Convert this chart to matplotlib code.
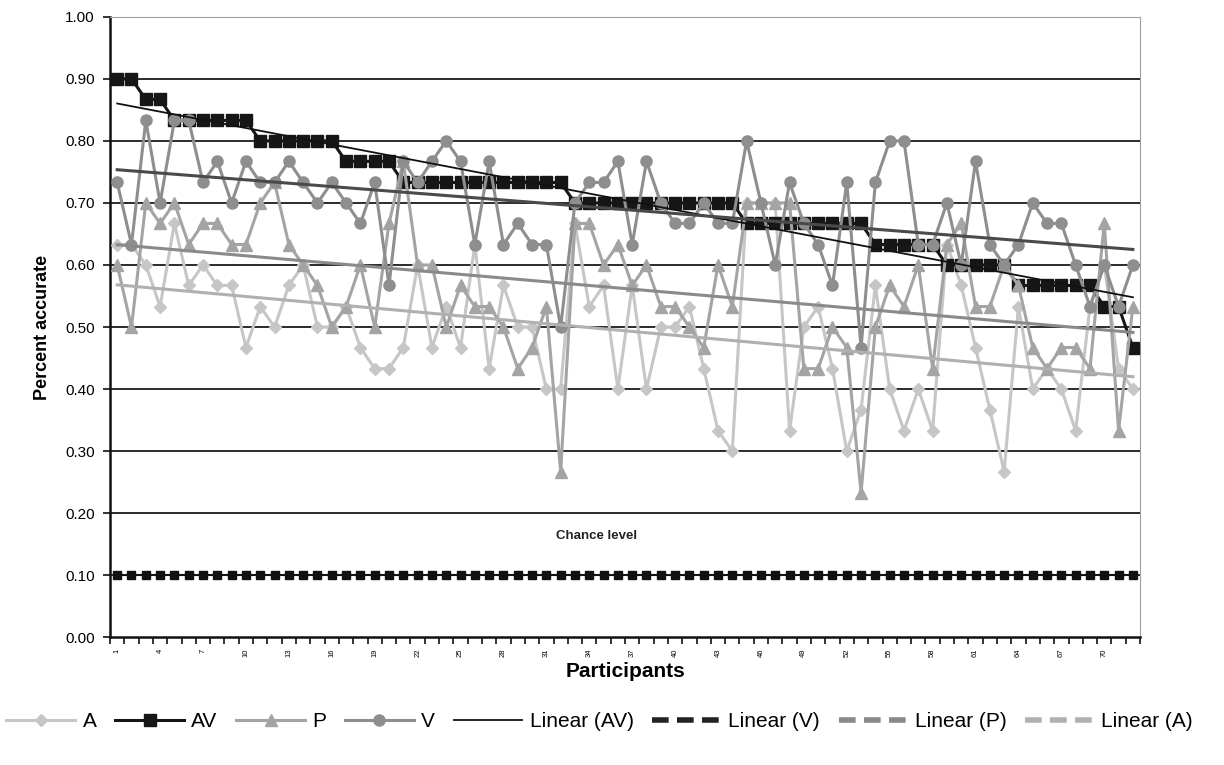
import numpy as np
import matplotlib
matplotlib.use("Agg")
import matplotlib.pyplot as plt
from matplotlib.lines import Line2D

plt.rcParams['font.family'] = ['Liberation Sans', 'DejaVu Sans']

participants = np.arange(1, 73)
tick_labels = [str(i) for i in range(1, 71, 3)]

AV = [0.900, 0.900, 0.867, 0.867, 0.833, 0.833, 0.833, 0.833, 0.833, 0.833,
      0.800, 0.800, 0.800, 0.800, 0.800, 0.800, 0.767, 0.767, 0.767, 0.767,
      0.733, 0.733, 0.733, 0.733, 0.733, 0.733, 0.733, 0.733, 0.733, 0.733,
      0.733, 0.733, 0.700, 0.700, 0.700, 0.700, 0.700, 0.700, 0.700, 0.700,
      0.700, 0.700, 0.700, 0.700, 0.667, 0.667, 0.667, 0.667, 0.667, 0.667,
      0.667, 0.667, 0.667, 0.633, 0.633, 0.633, 0.633, 0.633, 0.600, 0.600,
      0.600, 0.600, 0.600, 0.567, 0.567, 0.567, 0.567, 0.567, 0.567, 0.533,
      0.533, 0.467]

V = [0.733, 0.633, 0.833, 0.700, 0.833, 0.833, 0.733, 0.767, 0.700, 0.767,
     0.733, 0.733, 0.767, 0.733, 0.700, 0.733, 0.700, 0.667, 0.733, 0.567,
     0.767, 0.733, 0.767, 0.800, 0.767, 0.633, 0.767, 0.633, 0.667, 0.633,
     0.633, 0.500, 0.700, 0.733, 0.733, 0.767, 0.633, 0.767, 0.700, 0.667,
     0.667, 0.700, 0.667, 0.667, 0.800, 0.700, 0.600, 0.733, 0.667, 0.633,
     0.567, 0.733, 0.467, 0.733, 0.800, 0.800, 0.633, 0.633, 0.700, 0.600,
     0.767, 0.633, 0.600, 0.633, 0.700, 0.667, 0.667, 0.600, 0.533, 0.600,
     0.533, 0.600]

P = [0.600, 0.500, 0.700, 0.667, 0.700, 0.633, 0.667, 0.667, 0.633, 0.633,
     0.700, 0.733, 0.633, 0.600, 0.567, 0.500, 0.533, 0.600, 0.500, 0.667,
     0.767, 0.600, 0.600, 0.500, 0.567, 0.533, 0.533, 0.500, 0.433, 0.467,
     0.533, 0.267, 0.667, 0.667, 0.600, 0.633, 0.567, 0.600, 0.533, 0.533,
     0.500, 0.467, 0.600, 0.533, 0.700, 0.700, 0.700, 0.700, 0.433, 0.433,
     0.500, 0.467, 0.233, 0.500, 0.567, 0.533, 0.600, 0.433, 0.633, 0.667,
     0.533, 0.533, 0.600, 0.567, 0.467, 0.433, 0.467, 0.467, 0.433, 0.667,
     0.333, 0.533]

A = [0.633, 0.633, 0.600, 0.533, 0.667, 0.567, 0.600, 0.567, 0.567, 0.467,
     0.533, 0.500, 0.567, 0.600, 0.500, 0.500, 0.533, 0.467, 0.433, 0.433,
     0.467, 0.600, 0.467, 0.533, 0.467, 0.633, 0.433, 0.567, 0.500, 0.500,
     0.400, 0.400, 0.667, 0.533, 0.567, 0.400, 0.567, 0.400, 0.500, 0.500,
     0.533, 0.433, 0.333, 0.300, 0.700, 0.700, 0.700, 0.333, 0.500, 0.533,
     0.433, 0.300, 0.367, 0.567, 0.400, 0.333, 0.400, 0.333, 0.633, 0.567,
     0.467, 0.367, 0.267, 0.533, 0.400, 0.433, 0.400, 0.333, 0.533, 0.600,
     0.433, 0.400]

chance_level = 0.10

c_A = '#c6c6c6'
c_AV = '#161616'
c_P = '#a4a4a4'
c_V = '#8e8e8e'
c_lin_V = '#4a4a4a'
c_lin_P = '#8a8a8a'
c_lin_A = '#b0b0b0'

fig = plt.figure(figsize=(12.24, 7.65), dpi=100)
ax = fig.add_axes([0.0899, 0.167, 0.8415, 0.811])

for v in np.arange(0.1, 1.0, 0.1):
    ax.axhline(v, color='#1a1a1a', lw=1.3, zorder=1)

ax.plot(participants, [chance_level] * len(participants), color='#111111', lw=1.5,
        marker='s', ms=6, zorder=2)
ax.text(34.5, 0.163, 'Chance level', fontsize=9.5, fontweight='bold', ha='center',
        va='center', color='#222222')

ax.plot(participants, A, color=c_A, lw=2.2, marker='D', ms=6, zorder=3)
ax.plot(participants, AV, color=c_AV, lw=2.2, marker='s', ms=8, zorder=4)
ax.plot(participants, P, color=c_P, lw=2.2, marker='^', ms=8, zorder=5)
ax.plot(participants, V, color=c_V, lw=2.2, marker='o', ms=8, zorder=6)

# linear trend lines, as Excel draws them
x_fit = np.array([1, 72])
for series, col, lw in [(AV, '#111111', 1.3), (V, c_lin_V, 2.2), (P, c_lin_P, 2.2), (A, c_lin_A, 2.2)]:
    k, b = np.polyfit(participants, series, 1)
    ax.plot(x_fit, k * x_fit + b, color=col, lw=lw, zorder=7)

ax.set_xlim(0.5, 72.5)
ax.set_ylim(0, 1.0)
ax.set_yticks(np.arange(0, 1.01, 0.1))
ax.set_yticklabels([f'{v:.2f}' for v in np.arange(0, 1.01, 0.1)], fontsize=11)
ax.set_xticks(np.arange(0.5, 73, 1))
ax.set_xticklabels([])
ax.set_xticks(np.arange(1, 71, 3), minor=True)
ax.set_xticklabels(tick_labels, minor=True, rotation=90, fontsize=5.5)
ax.tick_params(axis='x', which='major', direction='out', length=5, width=1.2, color='#111111')
ax.tick_params(axis='x', which='minor', length=0, pad=8)
ax.tick_params(axis='y', direction='out', length=5, width=1.2, color='#111111', pad=6)

ax.spines['left'].set_linewidth(1.8)
ax.spines['bottom'].set_linewidth(1.8)
ax.spines['left'].set_color('#111111')
ax.spines['bottom'].set_color('#111111')
ax.spines['top'].set_color('#a0a0a0')
ax.spines['right'].set_color('#a0a0a0')

ax.set_ylabel('Percent accurate', fontsize=13, fontweight='bold', labelpad=10)
ax.set_xlabel('Participants', fontsize=15, fontweight='bold', labelpad=4)

handles = [
    Line2D([], [], color=c_A, lw=2.2, marker='D', ms=6),
    Line2D([], [], color=c_AV, lw=2.2, marker='s', ms=8),
    Line2D([], [], color=c_P, lw=2.2, marker='^', ms=8),
    Line2D([], [], color=c_V, lw=2.2, marker='o', ms=8),
    Line2D([], [], color='#111111', lw=1.3),
    Line2D([], [], color='#222222', lw=4, ls=(0, (3, 1.5))),
    Line2D([], [], color=c_lin_P, lw=4, ls=(0, (3, 1.5))),
    Line2D([], [], color=c_lin_A, lw=4, ls=(0, (3, 1.5))),
]
labels = ['A', 'AV', 'P', 'V', 'Linear (AV)', 'Linear (V)', 'Linear (P)', 'Linear (A)']
fig.legend(handles, labels, loc='center', bbox_to_anchor=(0.49, 0.057), ncol=8,
           frameon=False, fontsize=15, handlelength=3.3, handletextpad=0.35,
           columnspacing=0.9)

fig.savefig('out.png', dpi=100)
